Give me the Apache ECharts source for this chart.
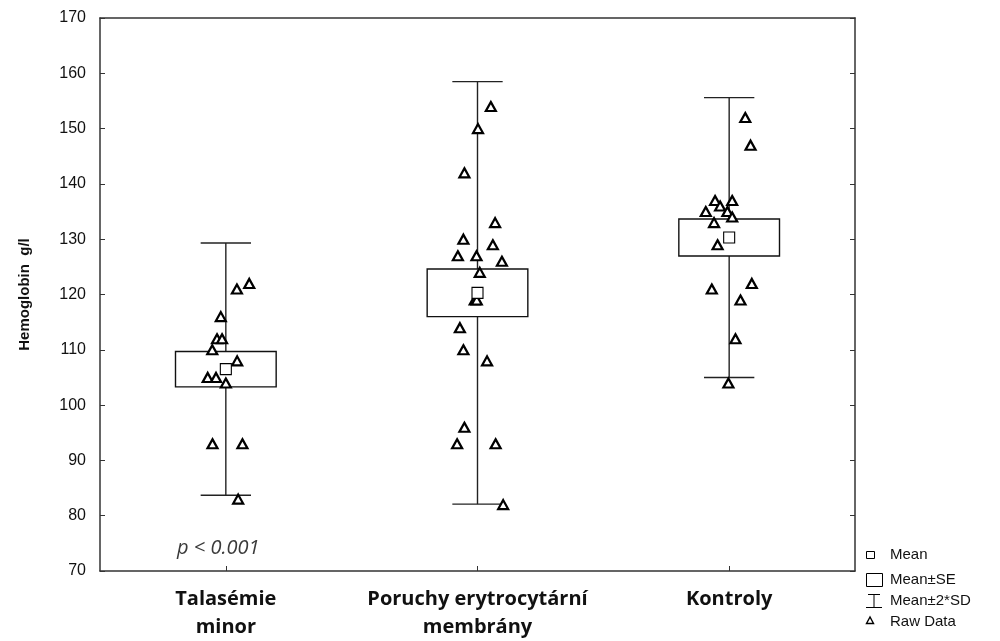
<!DOCTYPE html>
<html>
<head>
<meta charset="utf-8">
<script src="https://cdn.jsdelivr.net/npm/echarts@6/dist/echarts.min.js"></script>
<style>
  html, body { margin: 0; padding: 0; background: #fff; }
  #chart { width: 1000px; height: 641px; }
</style>
</head>
<body>
<div id="chart"></div>
<script>
// Group labels
const categories = ['Talasémie\nminor', 'Poruchy erytrocytární\nmembrány', 'Kontroly'];

// Summary statistics per group (g/l)
const means = [106.5, 120.3, 130.3];
const stdErrors = [3.2, 4.3, 3.35];
const stdDevs = [11.4, 19.1, 12.65];

// Raw hemoglobin values per group, with horizontal jitter in category units
const talasemieValues = [122, 121, 116, 112, 112, 110, 108, 105, 105, 104, 93, 93, 83];
const talasemieJitter = [0.093, 0.044, -0.020, -0.035, -0.015, -0.054, 0.045, -0.072, -0.039, 0.0, -0.053, 0.066, 0.049];

const poruchyValues = [154, 150, 142, 133, 130, 129, 127, 127, 126, 124, 119, 119, 114, 110, 108, 96, 93, 93, 82];
const poruchyJitter = [0.053, 0.002, -0.052, 0.070, -0.056, 0.061, -0.078, -0.004, 0.097, 0.009, -0.011, -0.003, -0.070, -0.056, 0.038, -0.052, -0.081, 0.072, 0.102];

const kontrolyValues = [152, 147, 137, 137, 136, 135, 135, 134, 133, 129, 122, 121, 119, 112, 104];
const kontrolyJitter = [0.064, 0.085, -0.056, 0.012, -0.036, -0.093, -0.007, 0.012, -0.060, -0.046, 0.090, -0.069, 0.045, 0.025, -0.003];

// Y axis range
const yMin = 70;
const yMax = 170;
const yStep = 10;

const pLabel = 'p < 0.001';

const groupsRaw = [
  [talasemieValues, talasemieJitter],
  [poruchyValues, poruchyJitter],
  [kontrolyValues, kontrolyJitter]
];

const rawPoints = [];
groupsRaw.forEach(function (g, i) {
  g[0].forEach(function (v, k) { rawPoints.push([i + g[1][k], v]); });
});

const statData = means.map(function (m, i) { return [i, m, stdErrors[i], stdDevs[i]]; });
const meanPoints = means.map(function (m, i) { return [i, m]; });

const axisColor = '#333';
const chart = echarts.init(document.getElementById('chart'));

chart.setOption({
  animation: false,
  backgroundColor: '#fff',
  grid: { left: 100, right: 145, top: 18, bottom: 69, containLabel: false },
  xAxis: [
    {
      type: 'category',
      data: categories,
      position: 'bottom',
      boundaryGap: true,
      axisLine: { show: true, onZero: false, lineStyle: { color: axisColor, width: 1.5 } },
      axisTick: { show: true, inside: true, alignWithLabel: true, length: 5, lineStyle: { color: axisColor } },
      axisLabel: {
        margin: 14,
        fontFamily: 'Open Sans',
        fontWeight: 'bold',
        fontSize: 20,
        lineHeight: 28,
        color: '#111',
        interval: 0
      },
      splitLine: { show: false }
    },
    {
      type: 'value',
      min: -0.5,
      max: 2.5,
      position: 'top',
      axisLine: { show: true, onZero: false, lineStyle: { color: axisColor, width: 1.5 } },
      axisTick: { show: false },
      axisLabel: { show: false },
      splitLine: { show: false }
    }
  ],
  yAxis: [
    {
      type: 'value',
      min: yMin,
      max: yMax,
      interval: yStep,
      position: 'left',
      name: 'Hemoglobin  g/l',
      nameLocation: 'middle',
      nameGap: 68,
      nameTextStyle: { fontFamily: 'Liberation Sans', fontWeight: 'bold', fontSize: 15, color: '#111' },
      axisLine: { show: true, onZero: false, lineStyle: { color: axisColor, width: 1.5 } },
      axisTick: { show: true, inside: true, length: 5, lineStyle: { color: axisColor } },
      axisLabel: { margin: 14, fontFamily: 'Liberation Sans', fontSize: 16, color: '#111' },
      splitLine: { show: false }
    },
    {
      type: 'value',
      min: yMin,
      max: yMax,
      interval: yStep,
      position: 'right',
      axisLine: { show: true, onZero: false, lineStyle: { color: axisColor, width: 1.5 } },
      axisTick: { show: true, inside: true, length: 5, lineStyle: { color: axisColor } },
      axisLabel: { show: false },
      splitLine: { show: false }
    }
  ],
  series: [
    {
      name: 'Mean±SE / Mean±2*SD',
      type: 'custom',
      xAxisIndex: 1,
      yAxisIndex: 0,
      z: 1,
      data: statData,
      renderItem: function (params, api) {
        const i = api.value(0);
        const m = api.value(1);
        const se = api.value(2);
        const sd = api.value(3);
        const boxHalf = api.size([0.4, 0])[0] / 2;
        const capHalf = api.size([0.2, 0])[0] / 2;
        const c = api.coord([i, m]);
        const seTop = api.coord([i, m + se]);
        const seBot = api.coord([i, m - se]);
        const sdTop = api.coord([i, m + 2 * sd]);
        const sdBot = api.coord([i, m - 2 * sd]);
        const lineStyle = { stroke: '#222', lineWidth: 1.4, fill: null };
        return {
          type: 'group',
          children: [
            { type: 'line', shape: { x1: c[0], y1: sdTop[1], x2: c[0], y2: seTop[1] }, style: lineStyle },
            { type: 'line', shape: { x1: c[0], y1: seBot[1], x2: c[0], y2: sdBot[1] }, style: lineStyle },
            { type: 'line', shape: { x1: c[0] - capHalf, y1: sdTop[1], x2: c[0] + capHalf, y2: sdTop[1] }, style: lineStyle },
            { type: 'line', shape: { x1: c[0] - capHalf, y1: sdBot[1], x2: c[0] + capHalf, y2: sdBot[1] }, style: lineStyle },
            {
              type: 'rect',
              shape: { x: c[0] - boxHalf, y: seTop[1], width: boxHalf * 2, height: seBot[1] - seTop[1] },
              style: { fill: '#fff', stroke: '#111', lineWidth: 1.4 }
            }
          ]
        };
      }
    },
    {
      name: 'Raw Data',
      type: 'scatter',
      xAxisIndex: 1,
      yAxisIndex: 0,
      z: 3,
      symbol: 'triangle',
      symbolSize: [10, 9],
      itemStyle: { color: '#fff', borderColor: '#000', borderWidth: 2.2, opacity: 1 },
      data: rawPoints
    },
    {
      name: 'Mean',
      type: 'scatter',
      xAxisIndex: 1,
      yAxisIndex: 0,
      z: 4,
      symbol: 'rect',
      symbolSize: [11, 11],
      itemStyle: { color: '#fff', borderColor: '#000', borderWidth: 1.1, opacity: 1 },
      data: meanPoints
    }
  ],
  graphic: [
    {
      type: 'text',
      left: 177,
      top: 538,
      style: { text: pLabel, fontFamily: 'Open Sans', fontStyle: 'italic', fontSize: 20, fill: '#3a3a3a' }
    },
    // legend
    { type: 'rect', shape: { x: 866.5, y: 551.5, width: 8, height: 7 }, style: { fill: '#fff', stroke: '#000', lineWidth: 1 } },
    { type: 'text', x: 890, y: 555, style: { text: 'Mean', fontFamily: 'Liberation Sans', fontSize: 15, fill: '#111', verticalAlign: 'middle' } },
    { type: 'rect', shape: { x: 866.5, y: 573.5, width: 16, height: 13 }, style: { fill: '#fff', stroke: '#000', lineWidth: 1 } },
    { type: 'text', x: 890, y: 580, style: { text: 'Mean±SE', fontFamily: 'Liberation Sans', fontSize: 15, fill: '#111', verticalAlign: 'middle' } },
    { type: 'line', shape: { x1: 868, y1: 594.5, x2: 880, y2: 594.5 }, style: { stroke: '#000', lineWidth: 1 } },
    { type: 'line', shape: { x1: 874, y1: 594.5, x2: 874, y2: 607.5 }, style: { stroke: '#000', lineWidth: 1 } },
    { type: 'line', shape: { x1: 866, y1: 607.5, x2: 882, y2: 607.5 }, style: { stroke: '#000', lineWidth: 1 } },
    { type: 'text', x: 890, y: 601, style: { text: 'Mean±2*SD', fontFamily: 'Liberation Sans', fontSize: 15, fill: '#111', verticalAlign: 'middle' } },
    { type: 'polygon', shape: { points: [[870, 617], [866.5, 623.5], [873.5, 623.5]] }, style: { fill: '#fff', stroke: '#000', lineWidth: 1.4 } },
    { type: 'text', x: 890, y: 622, style: { text: 'Raw Data', fontFamily: 'Liberation Sans', fontSize: 15, fill: '#111', verticalAlign: 'middle' } }
  ]
});
</script>
</body>
</html>
